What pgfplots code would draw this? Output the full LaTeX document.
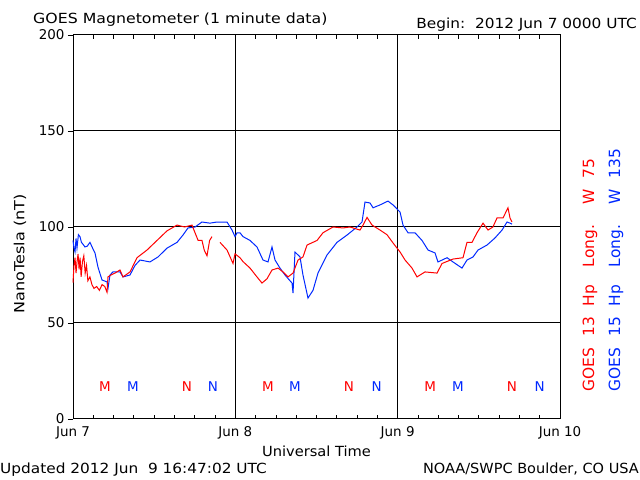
\documentclass[border=0pt]{standalone}
\usepackage{fontspec}
\setmainfont{DejaVu Sans}
\usepackage{pgfplots}
\usepackage{pgfplotstable}
\pgfplotsset{compat=1.18}

\pgfplotstableread{
h v
0.00 71
0.15 80
0.30 84
0.45 76
0.60 82
0.75 86
0.90 78
1.05 84
1.20 74
1.40 82
1.60 85
1.80 76
2.00 80
2.20 72
2.50 74
2.80 70
3.10 68
3.50 69
3.90 67
4.30 70
4.70 69
5.03 66
5.17 74
5.60 75
6.21 76
6.95 77.6
7.39 74
8.43 76.6
9.46 84
10.94 88
12.42 93
13.90 98
15.38 101
16.50 100
17.59 101
18.04 97
18.50 93
19.07 93
19.40 88
19.81 85
20.20 93
20.55 95
nan nan
21.73 92
22.77 88
23.66 81
23.95 86
24.69 84
25.13 82
26.17 78.6
27.20 74
27.94 70.8
28.68 73
29.42 77.6
30.31 78.6
31.05 76.6
31.79 74
32.53 76
33.27 82.8
34.00 84.4
34.60 90.6
36.08 93
36.96 97
38.44 100
39.92 99.5
40.95 100
42.43 98.4
42.88 101
43.47 105
44.21 101
45.39 98.4
46.42 96
47.31 91.7
48.35 87
49.09 82.8
50.12 78.6
50.86 74
52.04 76.6
53.82 76
54.56 81
56.18 83.3
57.66 84
58.25 92
58.99 92
59.73 97
60.62 102
61.36 98.4
62.08 100
62.69 104.7
63.57 104.7
64.31 110
64.61 104.7
64.91 102.6
}\redtab

\pgfplotstableread{
h v
0.00 93
0.15 89
0.30 87
0.45 94
0.59 89
0.80 96
1.03 95
1.25 92
1.48 91
1.77 89.6
2.10 90
2.51 92
2.90 89
3.25 86.5
3.70 79
4.29 72.4
5.03 71.4
5.17 68
5.47 75
5.91 76.6
6.95 76.6
7.39 74
8.43 75
9.17 80
9.91 82.8
11.38 81.8
12.57 84.4
13.90 89
15.38 92
16.26 95.8
17.00 99.5
18.04 100
19.07 102.6
20.25 102
21.29 102.6
22.77 102.6
23.51 98.4
23.95 95
24.25 97
24.69 97
25.13 95
26.17 93
27.20 89.6
28.09 82.8
28.83 81.8
29.42 89.6
29.87 82.8
30.60 78.6
31.34 75
32.38 70.8
32.53 65.6
32.82 87
33.56 84.4
34.00 75
34.74 63
35.48 67
36.22 76
37.55 85.4
39.03 92
40.51 95.8
41.99 100
42.73 102.6
43.17 113
43.91 112.5
44.36 110
45.39 111.5
46.57 113.5
47.31 111.5
48.35 107.8
48.79 101
49.53 97
50.56 97
51.60 93
52.49 88
53.52 86.5
53.96 81.8
55.30 84
56.18 81.8
57.51 78.6
58.25 82.8
59.14 84.4
59.88 88
61.21 90.6
62.39 94.3
63.43 98.4
64.17 102.6
64.61 102
64.91 101.5
}\bluetab

\pgfplotstableread{
h v lab
4.73 17 M
16.85 17 N
28.8 17 M
40.8 17 N
52.8 17 M
64.9 17 N
}\redlab

\pgfplotstableread{
h v lab
8.87 17 M
20.7 17 N
32.8 17 M
44.9 17 N
56.9 17 M
69.0 17 N
}\bluelab

\definecolor{gred}{RGB}{255,0,0}
\definecolor{gblue}{RGB}{0,40,255}

\begin{document}
\begin{tikzpicture}
\path[use as bounding box] (-73bp,-61bp) rectangle (567bp,419bp);
\begin{axis}[
  at={(0,0)}, anchor=south west,
  scale only axis, width=487bp, height=384bp,
  xmin=0, xmax=72, ymin=0, ymax=200,
  xtick={0,24,48,72},
  xticklabels={Jun 7,Jun 8,Jun 9,Jun 10},
  minor xtick={3,6,9,12,15,18,21,27,30,33,36,39,42,45,51,54,57,60,63,66,69},
  ytick={0,50,100,150,200},
  xtick pos=both, ytick pos=left,
  xtick align=inside, ytick align=outside,
  major tick length=5bp, minor tick length=4bp,
  every tick/.style={black, line width=0.8bp},
  grid=major,
  major grid style={black, line width=1bp},
  axis line style={black, line width=1bp},
  ticklabel style={font=\fontsize{13.5}{15}\selectfont},
  xticklabel style={yshift=-4bp},
  /pgf/number format/assume math mode=true,
  unbounded coords=jump,
  clip=false,
]
\addplot[gblue, line width=1bp] table[x=h,y=v]{\bluetab};
\addplot[gred, line width=1bp] table[x=h,y=v]{\redtab};
\addplot[only marks, mark=none, point meta=explicit symbolic, nodes near coords,
  nodes near coords align={center},
  every node near coord/.append style={text=gred, font=\fontsize{13.5}{15}\selectfont}]
  table[x=h,y=v,meta=lab]{\redlab};
\addplot[only marks, mark=none, point meta=explicit symbolic, nodes near coords,
  nodes near coords align={center},
  every node near coord/.append style={text=gblue, font=\fontsize{13.5}{15}\selectfont}]
  table[x=h,y=v,meta=lab]{\bluelab};
\end{axis}
\begin{scope}[every node/.style={inner sep=0pt, font=\fontsize{14}{16}\selectfont}]
\node[anchor=base west, xscale=1.13] at (-40bp,395bp) {GOES Magnetometer (1 minute data)};
\node[anchor=base east, xscale=1.1] at (564bp,390bp) {Begin:\ \ 2012 Jun 7 0000 UTC};
\node[rotate=90, anchor=center, xscale=1.15] at (-53bp,165bp) {NanoTesla (nT)};
\node[anchor=base, xscale=1.05] at (243.5bp,-37bp) {Universal Time};
\node[anchor=base west, xscale=1.1] at (-73bp,-54bp) {Updated 2012 Jun\ \ 9 16:47:02 UTC};
\node[anchor=base east, xscale=1.04] at (566bp,-54bp) {NOAA/SWPC Boulder, CO USA};
\node[rotate=90, anchor=west, text=gred, font=\fontsize{15.5}{17}\selectfont] at (517bp,27bp)
  {GOES\hspace{12bp}13\hspace{10bp}Hp\hspace{18bp}Long.\hspace{20bp}W\hspace{11bp}75};
\node[rotate=90, anchor=west, text=gblue, font=\fontsize{15.5}{17}\selectfont] at (543bp,27bp)
  {GOES\hspace{12bp}15\hspace{10bp}Hp\hspace{18bp}Long.\hspace{20bp}W\hspace{11bp}135};
\end{scope}
\end{tikzpicture}
\end{document}
